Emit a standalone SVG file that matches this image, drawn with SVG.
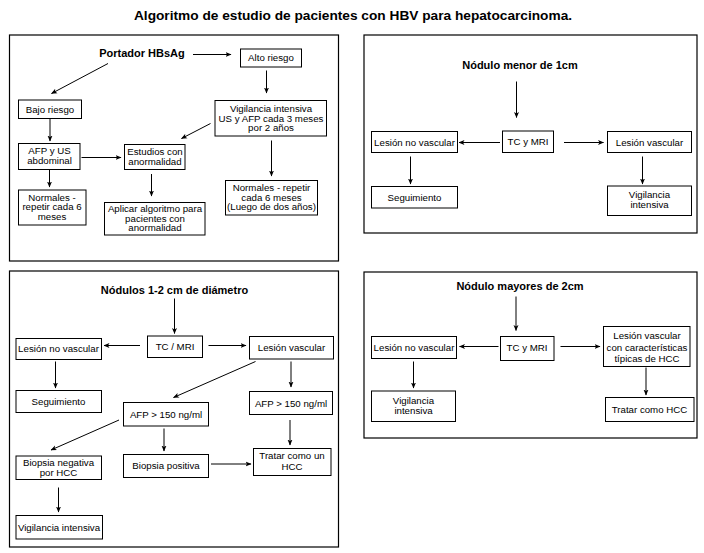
<svg xmlns="http://www.w3.org/2000/svg" width="704" height="553" viewBox="0 0 704 553">
<defs>
<marker id="ah" markerWidth="6" markerHeight="6" refX="5.5" refY="3" orient="auto" markerUnits="userSpaceOnUse">
<path d="M0,0.5 L6,3 L0,5.5 L1.5,3 Z" fill="#000"/>
</marker>
</defs>
<style>
.panel{fill:none;stroke:#000;stroke-width:1.2}
.box{fill:#fff;stroke:#000;stroke-width:1}
.t{font-family:"Liberation Sans",Arial,sans-serif;font-size:9.7px;fill:#000;text-anchor:middle}
.h{font-family:"Liberation Sans",Arial,sans-serif;font-size:11px;font-weight:bold;fill:#000;text-anchor:middle}
.ttl{font-family:"Liberation Sans",Arial,sans-serif;font-size:13.7px;font-weight:bold;fill:#000;text-anchor:middle}
.c line{stroke:#000;stroke-width:1;marker-end:url(#ah)}
</style>
<rect width="704" height="553" fill="#fff"/>
<text class="ttl" x="353" y="20">Algoritmo de estudio de pacientes con HBV para hepatocarcinoma.</text>

<g id="panels">
<rect class="panel" x="9.5" y="35" width="329" height="226"/>
<rect class="panel" x="364" y="35" width="333" height="198"/>
<rect class="panel" x="9.5" y="271" width="329" height="276"/>
<rect class="panel" x="364" y="272" width="333" height="166"/>
</g>

<!-- Panel 1 -->
<g id="portador"><text class="h" x="142" y="57">Portador HBsAg</text></g>
<g id="alto"><rect class="box" x="240.5" y="49" width="61" height="18"/><text class="t" x="271" y="61">Alto riesgo</text></g>
<g id="vig1"><rect class="box" x="215" y="100.5" width="111.5" height="35.5"/><text class="t" x="271" y="112">Vigilancia intensiva</text><text class="t" x="271" y="121.5">US y AFP cada 3 meses</text><text class="t" x="271" y="131">por 2 años</text></g>
<g id="bajo"><rect class="box" x="18.5" y="100" width="63" height="18.5"/><text class="t" x="50" y="112.5">Bajo riesgo</text></g>
<g id="afpus"><rect class="box" x="18.5" y="143.5" width="61.5" height="26"/><text class="t" x="49.5" y="154">AFP y US</text><text class="t" x="49.5" y="164">abdominal</text></g>
<g id="estudios"><rect class="box" x="124.5" y="144.5" width="60.5" height="25"/><text class="t" x="155" y="154.5">Estudios con</text><text class="t" x="155" y="164.5">anormalidad</text></g>
<g id="normales1"><rect class="box" x="18.5" y="190" width="67.5" height="35"/><text class="t" x="52" y="200.5">Normales -</text><text class="t" x="52" y="210">repetir cada 6</text><text class="t" x="52" y="219.5">meses</text></g>
<g id="aplicar"><rect class="box" x="104.5" y="202.5" width="100.5" height="32.5"/><text class="t" x="155" y="212">Aplicar algoritmo para</text><text class="t" x="155" y="221.7">pacientes con</text><text class="t" x="155" y="231.4">anormalidad</text></g>
<g id="normales2"><rect class="box" x="225.5" y="180.5" width="92" height="34.5"/><text class="t" x="271.5" y="191">Normales - repetir</text><text class="t" x="271.5" y="200.5">cada 6 meses</text><text class="t" x="271.5" y="210">(Luego de dos años)</text></g>

<!-- Panel 2 -->
<g id="nod1"><text class="h" x="520" y="69">Nódulo menor de 1cm</text></g>
<g id="tc1"><rect class="box" x="502.5" y="131" width="51" height="21.5"/><text class="t" x="528" y="145">TC y MRI</text></g>
<g id="lnv1"><rect class="box" x="371.5" y="131.5" width="86" height="21"/><text class="t" x="414.5" y="145.5">Lesión no vascular</text></g>
<g id="lv1"><rect class="box" x="607.5" y="131.5" width="84" height="21"/><text class="t" x="649.5" y="145.5">Lesión vascular</text></g>
<g id="seg1"><rect class="box" x="371.5" y="186.5" width="86" height="21.5"/><text class="t" x="414.5" y="200.5">Seguimiento</text></g>
<g id="vig2"><rect class="box" x="607.5" y="186" width="84" height="29.5"/><text class="t" x="649.5" y="198">Vigilancia</text><text class="t" x="649.5" y="207.5">intensiva</text></g>

<!-- Panel 3 -->
<g id="nod12"><text class="h" x="174.5" y="294">Nódulos 1-2 cm de diámetro</text></g>
<g id="tc3"><rect class="box" x="147.5" y="336" width="55" height="21.5"/><text class="t" x="175" y="349.5">TC / MRI</text></g>
<g id="lnv3"><rect class="box" x="16" y="338.5" width="85.5" height="21"/><text class="t" x="58.5" y="352">Lesión no vascular</text></g>
<g id="lv3"><rect class="box" x="249.5" y="336.5" width="84" height="22.5"/><text class="t" x="291.5" y="351">Lesión vascular</text></g>
<g id="seg3"><rect class="box" x="16" y="390.5" width="85.5" height="22"/><text class="t" x="58.5" y="405">Seguimiento</text></g>
<g id="afp3m"><rect class="box" x="123.5" y="402.5" width="85" height="23.5"/><text class="t" x="166" y="417.5">AFP &gt; 150 ng/ml</text></g>
<g id="afp3r"><rect class="box" x="249.5" y="391.5" width="83" height="23"/><text class="t" x="291" y="406.5">AFP &gt; 150 ng/ml</text></g>
<g id="bneg"><rect class="box" x="16" y="456" width="85.5" height="23.5"/><text class="t" x="58.5" y="466">Biopsia negativa</text><text class="t" x="58.5" y="476">por HCC</text></g>
<g id="bpos"><rect class="box" x="123.5" y="454.5" width="85" height="23"/><text class="t" x="166" y="469">Biopsia positiva</text></g>
<g id="tratar3"><rect class="box" x="253.5" y="448.5" width="77.5" height="27"/><text class="t" x="292" y="459">Tratar como un</text><text class="t" x="292" y="470">HCC</text></g>
<g id="vig3"><rect class="box" x="16" y="515.5" width="86.5" height="23.5"/><text class="t" x="59" y="530.5">Vigilancia intensiva</text></g>

<!-- Panel 4 -->
<g id="nod2"><text class="h" x="520" y="290">Nódulo mayores de 2cm</text></g>
<g id="tc4"><rect class="box" x="500.5" y="336.5" width="53.5" height="24"/><text class="t" x="527" y="350.5">TC y MRI</text></g>
<g id="lnv4"><rect class="box" x="371.5" y="336.5" width="85" height="22"/><text class="t" x="414" y="351">Lesión no vascular</text></g>
<g id="lv4"><rect class="box" x="603.5" y="326.5" width="86.5" height="40"/><text class="t" x="647" y="339">Lesión vascular</text><text class="t" x="647" y="350.5">con características</text><text class="t" x="647" y="362">típicas de HCC</text></g>
<g id="vig4"><rect class="box" x="371.5" y="391" width="84" height="30.5"/><text class="t" x="413.5" y="403.5">Vigilancia</text><text class="t" x="413.5" y="413.5">intensiva</text></g>
<g id="tratar4"><rect class="box" x="605.5" y="397.5" width="88.5" height="24"/><text class="t" x="649.5" y="413">Tratar como HCC</text></g>

<g id="connectors" class="c">
<!-- panel 1 -->
<line x1="193" y1="54.5" x2="231" y2="54.5"/>
<line x1="108" y1="63.5" x2="51.5" y2="93.5"/>
<line x1="266.5" y1="70.5" x2="266.5" y2="93"/>
<line x1="50" y1="119" x2="50" y2="141"/>
<line x1="81.5" y1="157.5" x2="121" y2="157.5"/>
<line x1="210.5" y1="123.5" x2="181.5" y2="138.5"/>
<line x1="49.5" y1="170" x2="49.5" y2="187"/>
<line x1="151.5" y1="174" x2="151.5" y2="196"/>
<line x1="271.5" y1="140.5" x2="271.5" y2="176"/>
<!-- panel 2 -->
<line x1="516.5" y1="81.5" x2="516.5" y2="117.5"/>
<line x1="500" y1="142.5" x2="459" y2="142.5"/>
<line x1="564" y1="142.5" x2="603.5" y2="142.5"/>
<line x1="410.5" y1="156.5" x2="410.5" y2="184"/>
<line x1="642.5" y1="156.5" x2="642.5" y2="184"/>
<!-- panel 3 -->
<line x1="174.5" y1="298.5" x2="174.5" y2="333.5"/>
<line x1="140" y1="345.5" x2="104" y2="345.5"/>
<line x1="208.5" y1="345.5" x2="246" y2="345.5"/>
<line x1="55.5" y1="361.5" x2="55.5" y2="388"/>
<line x1="255.5" y1="361.5" x2="173.5" y2="397.5"/>
<line x1="291" y1="361.5" x2="291" y2="387"/>
<line x1="119" y1="420" x2="51" y2="450"/>
<line x1="164" y1="428.5" x2="164" y2="451"/>
<line x1="211" y1="464" x2="251" y2="464"/>
<line x1="290" y1="420" x2="290" y2="445"/>
<line x1="58.5" y1="487.5" x2="58.5" y2="512"/>
<!-- panel 4 -->
<line x1="516" y1="296.5" x2="516" y2="330.5"/>
<line x1="498.5" y1="346.5" x2="459.5" y2="346.5"/>
<line x1="560.5" y1="346.5" x2="600" y2="346.5"/>
<line x1="413.5" y1="361.5" x2="413.5" y2="388"/>
<line x1="646" y1="367.5" x2="646" y2="395"/>
</g>
</svg>
